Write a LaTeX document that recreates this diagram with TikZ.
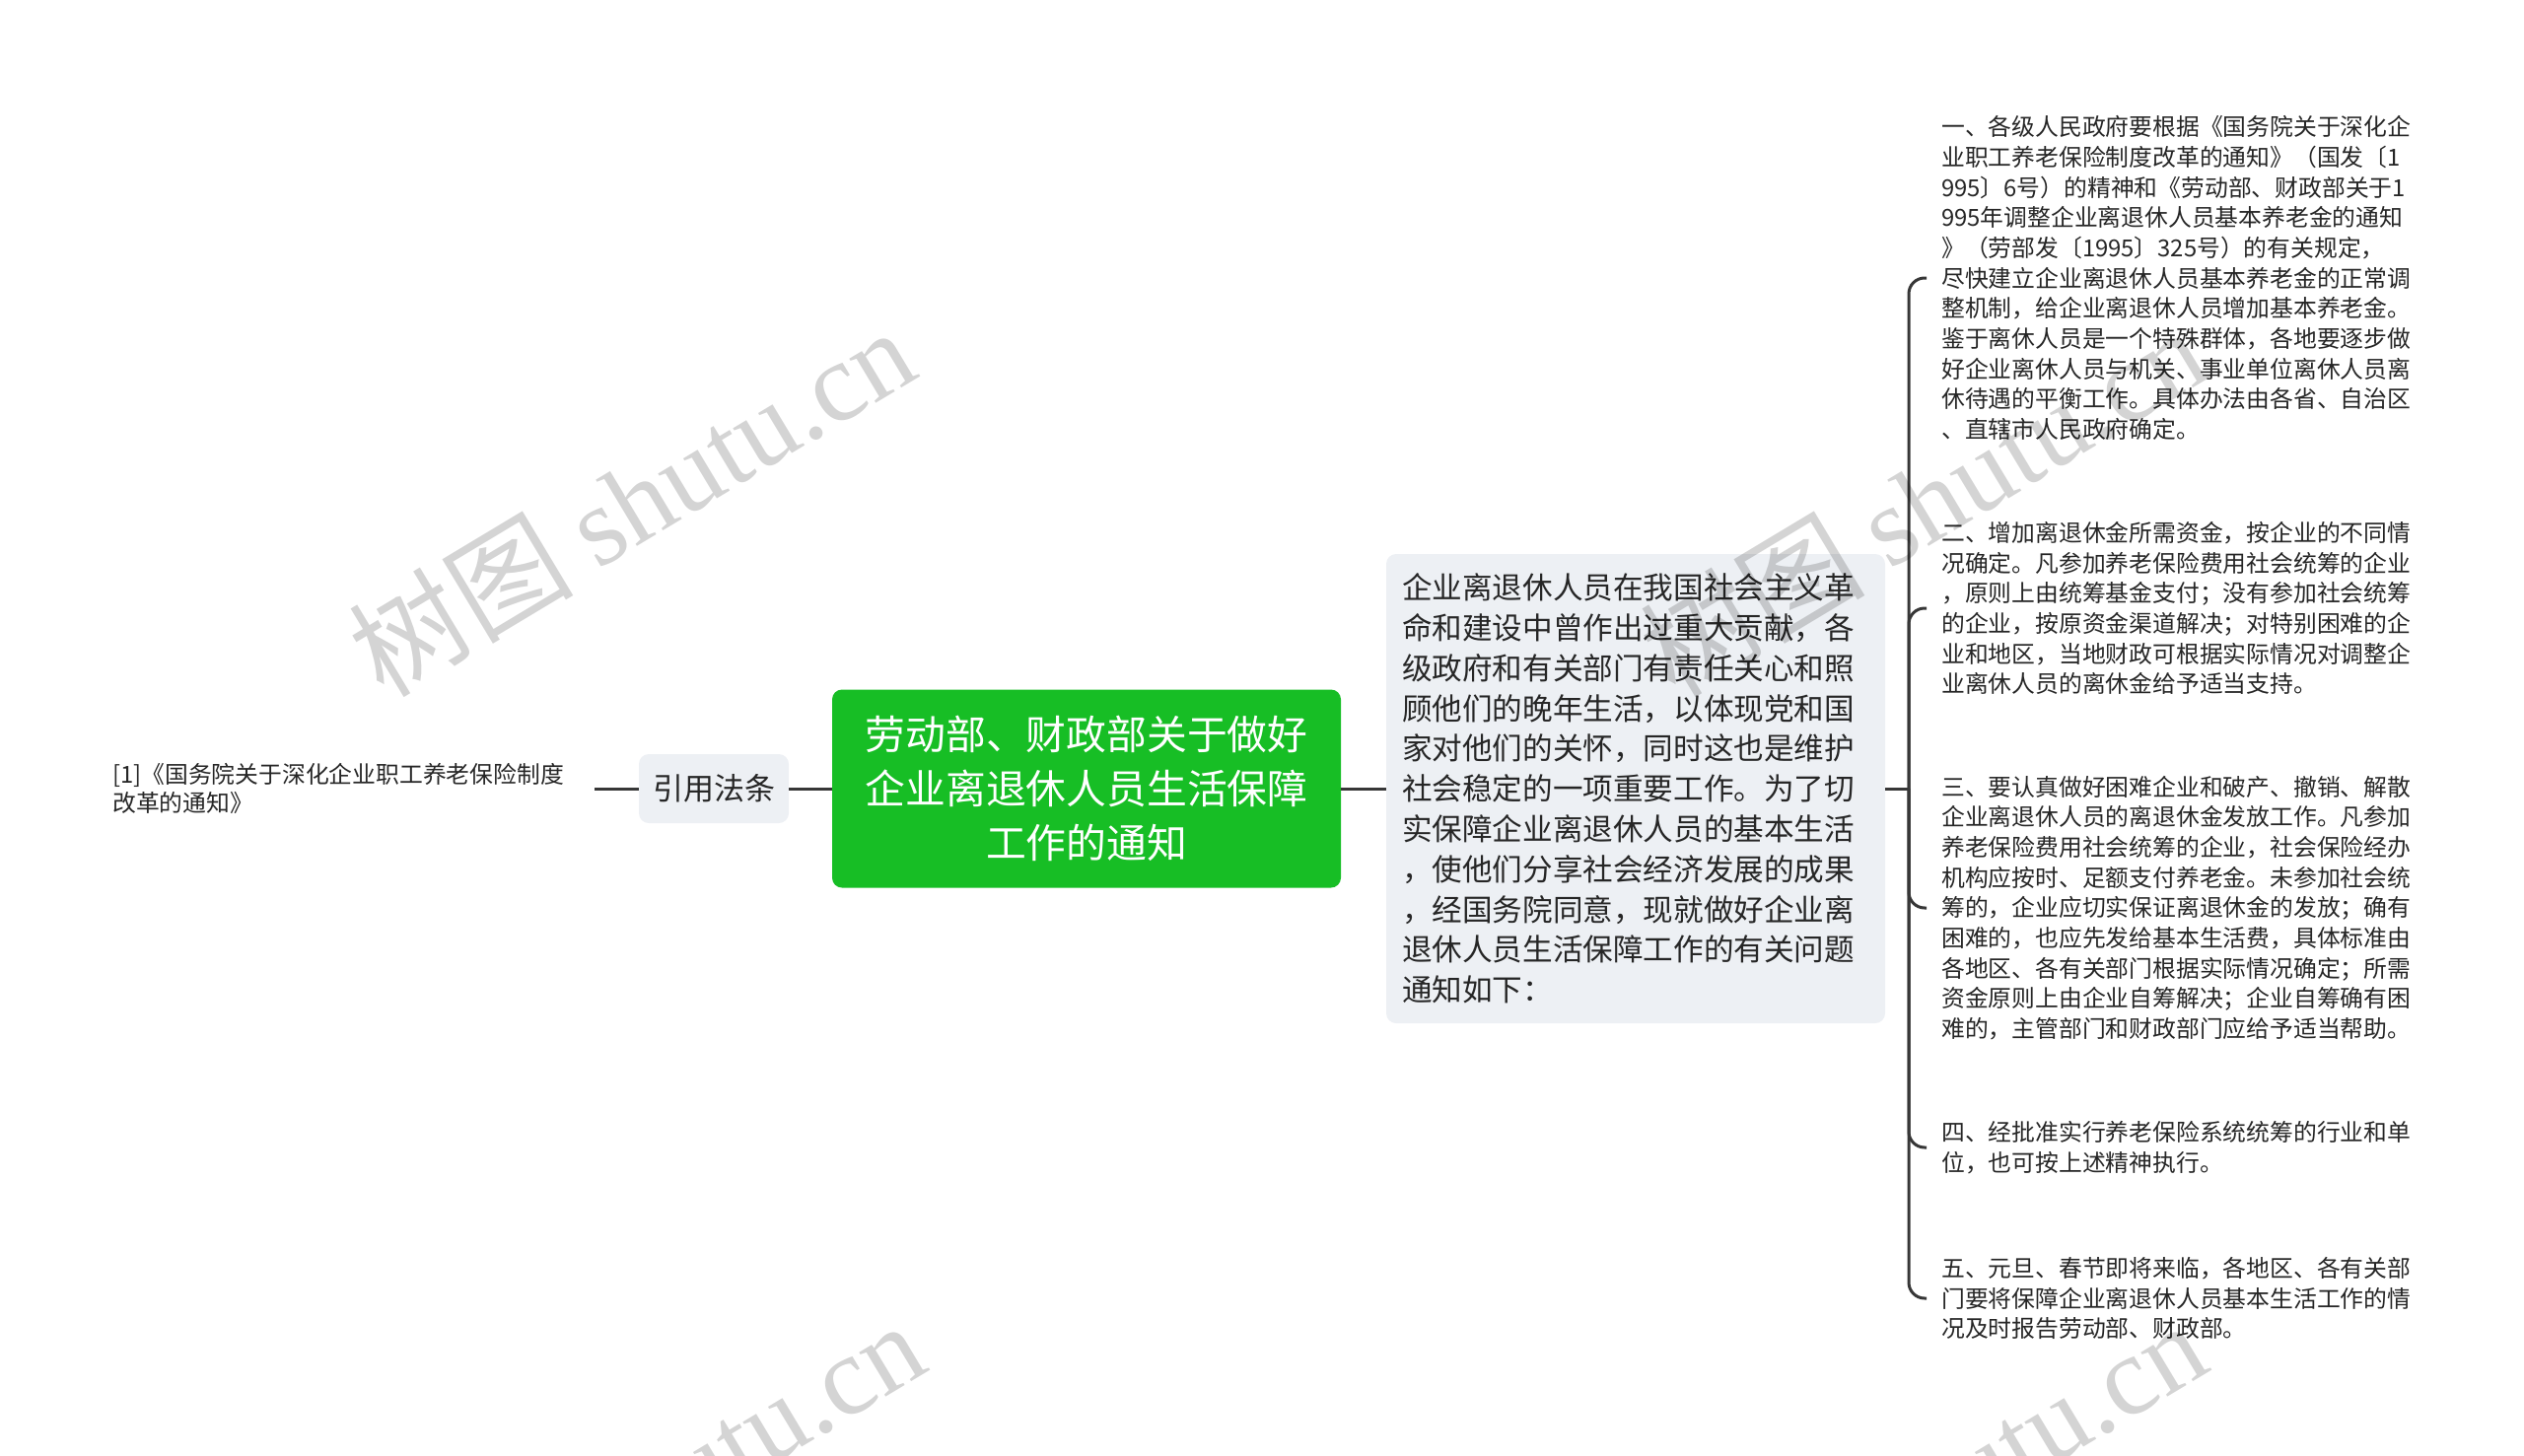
\documentclass[tikz,border=0pt]{standalone}
\usepackage{fontspec}
\setmainfont{Noto Sans CJK SC}
\newfontfamily\wmlatin{Liberation Serif}
\definecolor{rootgreen}{RGB}{23,190,37}
\definecolor{boxgray}{RGB}{237,240,244}
\definecolor{linegray}{RGB}{55,55,55}
\begin{document}
\begin{tikzpicture}[x=1pt,y=-1pt,
  conn/.style={draw=linegray,line width=3pt},
  rootbox/.style={fill=rootgreen,text=white,rounded corners=10pt,align=center,
    minimum width=516pt,minimum height=201pt,inner sep=0pt,
    font=\fontsize{40.8}{54.7}\selectfont},
  graybox/.style={fill=boxgray,rounded corners=10pt,inner sep=0pt},
  leaf/.style={anchor=west,align=left,inner xsep=15pt,inner ysep=0pt,text=black!85,
    font=\fontsize{23.8}{30.7}\selectfont},
  wm/.style={text=black,opacity=0.17,rotate=31,inner sep=0pt,
    font=\fontsize{114}{114}\selectfont}
]
\useasboundingbox (0,0) rectangle (2560,1477);

\node[rootbox] (root) at (1102,800) {劳动部、财政部关于做好\\企业离退休人员生活保障\\工作的通知};

\node[graybox,minimum width=152pt,minimum height=70pt,
  font=\fontsize{31}{40}\selectfont,text=black!85] (ref) at (724,800) {引用法条};

\node[anchor=west,align=left,inner xsep=31pt,inner ysep=0pt,text=black!85,
  font=\fontsize{23.8}{29.6}\selectfont] (law) at (83,800)
  {[1]《国务院关于深化企业职工养老保险制度\\改革的通知》};

\node[graybox,text width=474pt,inner xsep=16pt,minimum height=476pt,align=left,text=black!85,
  font=\fontsize{30.6}{40.8}\selectfont] (intro) at (1659,800)
  {企业离退休人员在我国社会主义革\\命和建设中曾作出过重大贡献，各\\级政府和有关部门有责任关心和照\\顾他们的晚年生活，以体现党和国\\家对他们的关怀，同时这也是维护\\社会稳定的一项重要工作。为了切\\实保障企业离退休人员的基本生活\\，使他们分享社会经济发展的成果\\，经国务院同意，现就做好企业离\\退休人员生活保障工作的有关问题\\通知如下：};

\coordinate (j) at (1936,800);

\node[leaf] (c1) at (1954,282)
  {一、各级人民政府要根据《国务院关于深化企\\业职工养老保险制度改革的通知》（国发〔1\\995〕6号）的精神和《劳动部、财政部关于1\\995年调整企业离退休人员基本养老金的通知\\》（劳部发〔1995〕325号）的有关规定，\\尽快建立企业离退休人员基本养老金的正常调\\整机制，给企业离退休人员增加基本养老金。\\鉴于离休人员是一个特殊群体，各地要逐步做\\好企业离休人员与机关、事业单位离休人员离\\休待遇的平衡工作。具体办法由各省、自治区\\、直辖市人民政府确定。};

\node[leaf] (c2) at (1954,617)
  {二、增加离退休金所需资金，按企业的不同情\\况确定。凡参加养老保险费用社会统筹的企业\\，原则上由统筹基金支付；没有参加社会统筹\\的企业，按原资金渠道解决；对特别困难的企\\业和地区，当地财政可根据实际情况对调整企\\业离休人员的离休金给予适当支持。};

\node[leaf] (c3) at (1954,921)
  {三、要认真做好困难企业和破产、撤销、解散\\企业离退休人员的离退休金发放工作。凡参加\\养老保险费用社会统筹的企业，社会保险经办\\机构应按时、足额支付养老金。未参加社会统\\筹的，企业应切实保证离退休金的发放；确有\\困难的，也应先发给基本生活费，具体标准由\\各地区、各有关部门根据实际情况确定；所需\\资金原则上由企业自筹解决；企业自筹确有困\\难的，主管部门和财政部门应给予适当帮助。};

\node[leaf] (c4) at (1954,1164)
  {四、经批准实行养老保险系统统筹的行业和单\\位，也可按上述精神执行。};

\node[leaf] (c5) at (1954,1317)
  {五、元旦、春节即将来临，各地区、各有关部\\门要将保障企业离退休人员基本生活工作的情\\况及时报告劳动部、财政部。};

\draw[conn] (law.east) -- (ref.west);
\draw[conn] (ref.east) -- (root.west);
\draw[conn] (root.east) -- (intro.west);
\draw[conn] (intro.east) -- (j);
\foreach \c in {c1,c2,c3,c4,c5}
  \draw[conn,rounded corners=16pt] (j) |- (\c.west);

% watermarks
\node[wm] (w1) at (640,508) {树图 {\wmlatin shutu.cn}};
\node[wm] (w2) at (1950,508) {树图 {\wmlatin shutu.cn}};
\node[wm] (w3) at (650,1516) {树图 {\wmlatin shutu.cn}};
\node[wm] (w4) at (1950,1516) {树图 {\wmlatin shutu.cn}};
\end{tikzpicture}
\end{document}
